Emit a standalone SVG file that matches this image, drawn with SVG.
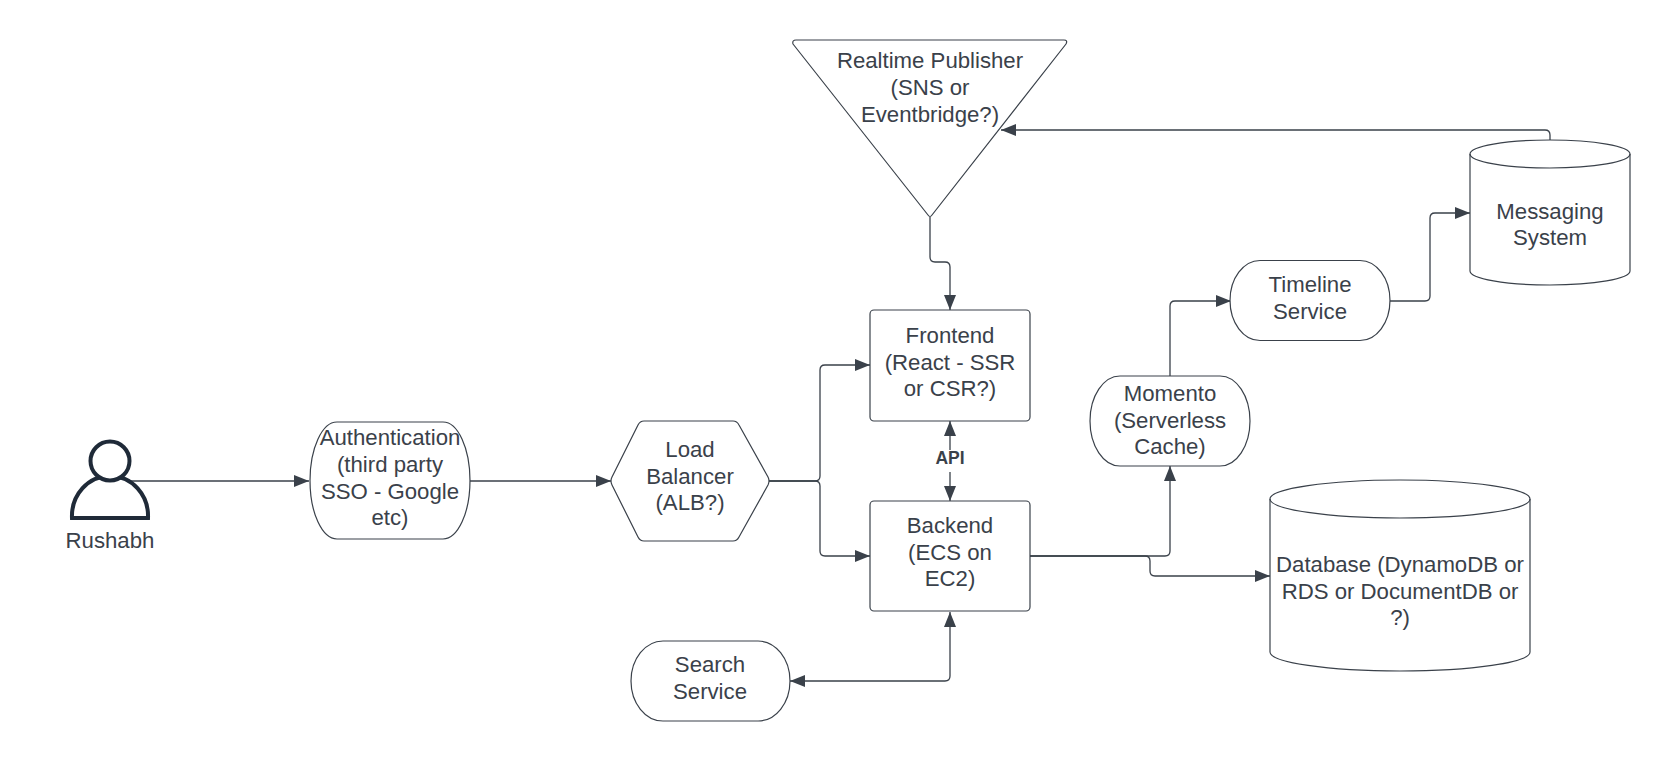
<svg xmlns="http://www.w3.org/2000/svg" width="1670" height="760" viewBox="0 0 1670 760">
<style>
.s{fill:#fff;stroke:#3a414a;stroke-width:1.2;stroke-linejoin:round}
.t{font-family:"Liberation Sans",Arial,sans-serif;font-size:22.2px;fill:#3a414a;text-anchor:middle}
.c{fill:none;stroke:#3a414a;stroke-width:1.3}
.a{marker-end:url(#ah)}
.b{marker-start:url(#as)}
.p{fill:#fff;stroke:#1f2a38;stroke-width:4}
</style>
<defs>
<marker id="ah" markerUnits="userSpaceOnUse" markerWidth="16" markerHeight="14" refX="15" refY="6" orient="auto"><path d="M0,0L15,6L0,12Z" fill="#3a414a"/></marker>
<marker id="as" markerUnits="userSpaceOnUse" markerWidth="16" markerHeight="14" refX="0" refY="6" orient="auto"><path d="M15,0L0,6L15,12Z" fill="#3a414a"/></marker>
</defs>
<rect width="1670" height="760" fill="#fff"/>
<g id="connectors">
<path class="c a" d="M131,481H309"/>
<path class="c a" d="M469.500,481H611"/>
<path class="c a" d="M769,481H815Q820,481 820,476V370Q820,365 825,365H870"/>
<path class="c a" d="M769,481H815Q820,481 820,486V551Q820,556 825,556H870"/>
<path class="c a" d="M930,217V257Q930,262 935,262H945Q950,262 950,267V310"/>
<path class="c b" d="M950,421V450"/>
<path class="c a" d="M950,472V501"/>
<path class="c a" d="M1030,556H1165Q1170,556 1170,551V466"/>
<path class="c a" d="M1030,556H1145Q1150,556 1150,561V571Q1150,576 1155,576H1270"/>
<path class="c a" d="M1170,376V306Q1170,301 1175,301H1231"/>
<path class="c a" d="M1390,301H1425Q1430,301 1430,296V218Q1430,213 1435,213H1470"/>
<path class="c a" d="M1550,140V135Q1550,130 1545,130H1001"/>
<path class="c a b" d="M950,612V676Q950,681 945,681H790"/>
<text class="t" x="950" y="464" style="font-size:17.500px;font-weight:bold">API</text>
</g>
<g id="rushabh">
<path class="p" d="M72,518C71,495 88,476 110,476C132,476 149,495 148,518Z"/>
<ellipse class="p" cx="110" cy="461" rx="19.500" ry="19.500"/>
<text class="t" x="110" y="547.500">Rushabh</text>
</g>
<g id="authentication">
<path class="s" d="M337,422H443A27,58.500 0 0 1 443,539H337A27,58.500 0 0 1 337,422Z"/>
<text class="t" x="390" y="445">Authentication</text>
<text class="t" x="390" y="472">(third party</text>
<text class="t" x="390" y="498.500">SSO - Google</text>
<text class="t" x="390" y="525">etc)</text>
</g>
<g id="load-balancer">
<path class="s" d="M644,421H733Q737,421 739,425L768,477Q770,481 768,485L739,537Q737,541 733,541H644Q640,541 638,537L612,485Q610,481 612,477L638,425Q640,421 644,421Z"/>
<text class="t" x="690" y="457">Load</text>
<text class="t" x="690" y="483.500">Balancer</text>
<text class="t" x="690" y="510">(ALB?)</text>
</g>
<g id="search-service">
<path class="s" d="M663,641H758A32,40 0 0 1 758,721H663A32,40 0 0 1 663,641Z"/>
<text class="t" x="710" y="672">Search</text>
<text class="t" x="710" y="698.500">Service</text>
</g>
<g id="realtime-publisher">
<path class="s" d="M796,40H1064Q1068,40 1066,44L932,215Q930,218 928,215L793,44Q792,40 796,40Z"/>
<text class="t" x="930" y="68">Realtime Publisher</text>
<text class="t" x="930" y="95">(SNS or</text>
<text class="t" x="930" y="121.500">Eventbridge?)</text>
</g>
<g id="frontend">
<rect class="s" x="870" y="310" width="160" height="111" rx="4"/>
<text class="t" x="950" y="343">Frontend</text>
<text class="t" x="950" y="370">(React - SSR</text>
<text class="t" x="950" y="396">or CSR?)</text>
</g>
<g id="backend">
<rect class="s" x="870" y="501" width="160" height="110" rx="4"/>
<text class="t" x="950" y="533">Backend</text>
<text class="t" x="950" y="559.500">(ECS on</text>
<text class="t" x="950" y="586">EC2)</text>
</g>
<g id="momento">
<path class="s" d="M1120,376H1220A30,45 0 0 1 1220,466H1120A30,45 0 0 1 1120,376Z"/>
<text class="t" x="1170" y="401">Momento</text>
<text class="t" x="1170" y="428">(Serverless</text>
<text class="t" x="1170" y="454">Cache)</text>
</g>
<g id="timeline-service">
<path class="s" d="M1260,260.500H1360A30,40 0 0 1 1360,340.500H1260A30,40 0 0 1 1260,260.500Z"/>
<text class="t" x="1310" y="292">Timeline</text>
<text class="t" x="1310" y="319">Service</text>
</g>
<g id="messaging-system">
<path class="s" d="M1470,154A80,14 0 0 1 1630,154V271A80,14 0 0 1 1470,271Z"/>
<path class="s" style="fill:none" d="M1470,154A80,14 0 0 0 1630,154"/>
<text class="t" x="1550" y="218.500">Messaging</text>
<text class="t" x="1550" y="245">System</text>
</g>
<g id="database">
<path class="s" d="M1270,499A130,19 0 0 1 1530,499V652A130,19 0 0 1 1270,652Z"/>
<path class="s" style="fill:none" d="M1270,499A130,19 0 0 0 1530,499"/>
<text class="t" x="1400" y="572">Database (DynamoDB or</text>
<text class="t" x="1400" y="598.500">RDS or DocumentDB or</text>
<text class="t" x="1400" y="625">?)</text>
</g>
</svg>
